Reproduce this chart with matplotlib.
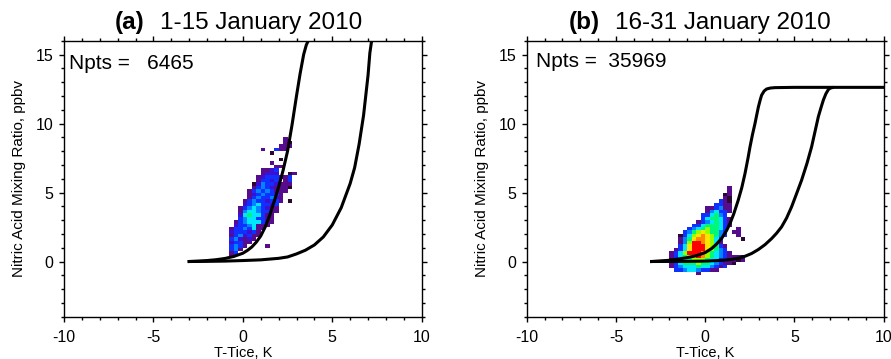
import numpy as np
import matplotlib.pyplot as plt
from matplotlib.colors import ListedColormap, BoundaryNorm
from matplotlib.ticker import MultipleLocator

plt.rcParams['font.family'] = ['Liberation Sans', 'DejaVu Sans']
plt.rcParams['axes.unicode_minus'] = False

# colour levels of the 2-D histogram (rainbow table), level 1 .. 11
level_colors = ['#2a0830', '#560c8c', '#3c10d2', '#1030ff', '#0084ff', '#00e6ff',
                '#00f878', '#94ff00', '#ffe400', '#ff8a00', '#ff0000']

bin_w = 0.25

# panel (a): columns start at -1.0 K, rows listed from 8.75-9.0 ppbv down to 0-0.25
a_x0, a_ytop = -1.0, 8.75
a_rows = [
    ".............2...",
    ".............21..",
    "............222..",
    "........2..422...",
    "..........1......",
    ".................",
    "............1....",
    "..........2......",
    "...........22....",
    "........2234.....",
    "........2333..12.",
    ".......23444224..",
    ".......24434.24..",
    "......135443222..",
    "......245432221..",
    ".....245454222...",
    ".....23454442....",
    ".....24544532....",
    "....245443442.1..",
    "....34564434.....",
    "...245654322.....",
    "...256654422.....",
    "...36766422......",
    "...45664422......",
    "..245666422......",
    "..34456222.......",
    ".24454622........",
    ".3444342.........",
    ".2453422.........",
    ".453232..........",
    ".34422...........",
    ".4542....2.......",
    ".452.............",
    ".24..............",
    ".2...............",
    ".................",
]

# panel (b): columns start at -2.25 K, rows listed from 5.25-5.5 ppbv down to -1.0
b_x0, b_ytop = -2.25, 5.25
b_rows = [
    "..............2....",
    "..............2....",
    ".............12....",
    ".............21....",
    "............421....",
    "...........4422....",
    ".........224522....",
    ".........256442....",
    "........446754.....",
    "........4677642....",
    ".......24567642....",
    "......446777642....",
    ".....456787764..2..",
    "....4578987754.22..",
    "...14689a98754..2..",
    "...2579aa9864....1.",
    "...258bba9862......",
    "...469bbb98742.....",
    "..2469bbb98754.....",
    ".2468bbba876542....",
    ".246789ba876542221.",
    ".14567888766442212.",
    ".246777877654221...",
    ".2456667665424.....",
    "..4456654422.......",
    ".......2...........",
]

# equilibrium curves (T-Tice in K, HNO3 in ppbv)
a_c1_x = [-3.0, -2.5, -2.0, -1.5, -1.0, -0.5, 0.0, 0.25, 0.5, 0.75, 1.0, 1.25, 1.5,
          1.75, 2.0, 2.25, 2.5, 2.75, 3.0, 3.2, 3.4, 3.55, 3.66]
a_c1_y = [0.0, 0.03, 0.07, 0.13, 0.22, 0.37, 0.6, 0.8, 1.05, 1.4, 1.85, 2.5, 3.35,
          4.35, 5.4, 6.6, 8.0, 9.9, 12.0, 13.6, 15.0, 15.7, 16.0]
a_c2_x = [-3.0, -2.0, -1.0, 0.0, 1.0, 2.0, 2.5, 3.0, 3.5, 4.0, 4.5, 5.0, 5.5, 6.0,
          6.25, 6.5, 6.75, 7.0, 7.1, 7.2]
a_c2_y = [0.0, 0.01, 0.03, 0.07, 0.12, 0.23, 0.33, 0.55, 0.82, 1.2, 1.78, 2.65, 3.9,
          5.65, 6.8, 8.5, 10.6, 13.5, 15.1, 16.0]

b_c1_x = [-3.0, -2.0, -1.0, -0.5, 0.0, 0.36, 0.6, 0.92, 1.2, 1.39, 1.6, 1.85, 2.05,
          2.23, 2.4, 2.51, 2.65, 2.79, 2.9, 2.98, 3.08, 3.16, 3.3, 3.44, 3.65, 3.91,
          5.0, 10.0]
b_c1_y = [0.0, 0.09, 0.28, 0.42, 0.65, 0.94, 1.22, 1.67, 2.25, 2.75, 3.45, 4.44, 5.35,
          6.37, 7.5, 8.3, 9.2, 10.0, 10.7, 11.2, 11.7, 12.05, 12.35, 12.5, 12.57, 12.6,
          12.62, 12.62]
b_c2_x = [-3.0, -1.0, 0.0, 1.0, 1.48, 2.0, 2.23, 2.6, 2.98, 3.35, 3.72, 4.0, 4.28,
          4.56, 4.84, 5.1, 5.4, 5.7, 5.96, 6.15, 6.34, 6.5, 6.62, 6.76, 6.9, 7.0, 7.12]
b_c2_y = [0.0, 0.01, 0.03, 0.09, 0.15, 0.28, 0.38, 0.58, 0.87, 1.22, 1.66, 2.05, 2.51,
          3.15, 3.96, 4.85, 5.89, 7.1, 8.3, 9.4, 10.5, 11.2, 11.7, 12.15, 12.46, 12.56,
          12.6]

titles = [("(a)", "1-15 January 2010"), ("(b)", "16-31 January 2010")]
npts = ["Npts =   6465", "Npts =  35969"]

cmap = ListedColormap(level_colors)
norm = BoundaryNorm(np.arange(0.5, len(level_colors) + 1.5), cmap.N)


def to_grid(rows):
    n = max(len(r) for r in rows)
    g = np.array([[int(c, 16) if c != '.' else 0 for c in r.ljust(n, '.')] for r in rows],
                 dtype=float)
    g = g[::-1]
    return np.ma.masked_equal(g, 0)


fig = plt.figure(figsize=(8.91, 3.59), dpi=100)
ax_a = fig.add_axes([0.0718, 0.1178, 0.4015, 0.7688])
ax_b = fig.add_axes([0.5911, 0.1178, 0.4007, 0.7688])

panels = [
    (ax_a, a_rows, a_x0, a_ytop, [(a_c1_x, a_c1_y), (a_c2_x, a_c2_y)], (0.2264, 0.2683), (0.014, 0.919)),
    (ax_b, b_rows, b_x0, b_ytop, [(b_c1_x, b_c1_y), (b_c2_x, b_c2_y)], (0.205, 0.247), (0.025, 0.924)),
]

for i, (ax, rows, x0, ytop, curves, tpos, npos) in enumerate(panels):
    grid = to_grid(rows)
    nr, nc = grid.shape
    xe = x0 + bin_w * np.arange(nc + 1)
    ye = (ytop - bin_w * (nr - 1)) + bin_w * np.arange(nr + 1)
    ax.pcolormesh(xe, ye, grid, cmap=cmap, norm=norm, zorder=1)
    for cx, cy in curves:
        ax.plot(cx, cy, color='black', lw=2.2, zorder=3, solid_joinstyle='round')

    ax.set_xlim(-10, 10)
    ax.set_ylim(-4, 16)
    ax.xaxis.set_major_locator(MultipleLocator(5))
    ax.xaxis.set_minor_locator(MultipleLocator(1))
    ax.yaxis.set_major_locator(MultipleLocator(5))
    ax.yaxis.set_minor_locator(MultipleLocator(1))
    ax.tick_params(which='both', direction='out', top=True, right=True, width=1)
    ax.tick_params(which='major', length=3.5, labelsize=11.5)
    ax.tick_params(axis='x', which='major', pad=6)
    ax.tick_params(axis='y', which='major', pad=4)
    ax.tick_params(which='minor', length=2)
    for s in ax.spines.values():
        s.set_linewidth(1.0)

    ax.set_xlabel("T-Tice, K", fontsize=10.5, labelpad=1)
    ax.set_ylabel("Nitric Acid Mixing Ratio, ppbv", fontsize=11, labelpad=7)

    ax.text(tpos[0], 1.041, titles[i][0], transform=ax.transAxes, ha='right',
            va='baseline', fontsize=17.5, fontweight='bold')
    ax.text(tpos[1], 1.041, titles[i][1], transform=ax.transAxes, ha='left',
            va='baseline', fontsize=17.5)
    ax.text(npos[0], npos[1], npts[i], transform=ax.transAxes, ha='left',
            va='center', fontsize=15)

fig.savefig("out.png", dpi=100)
